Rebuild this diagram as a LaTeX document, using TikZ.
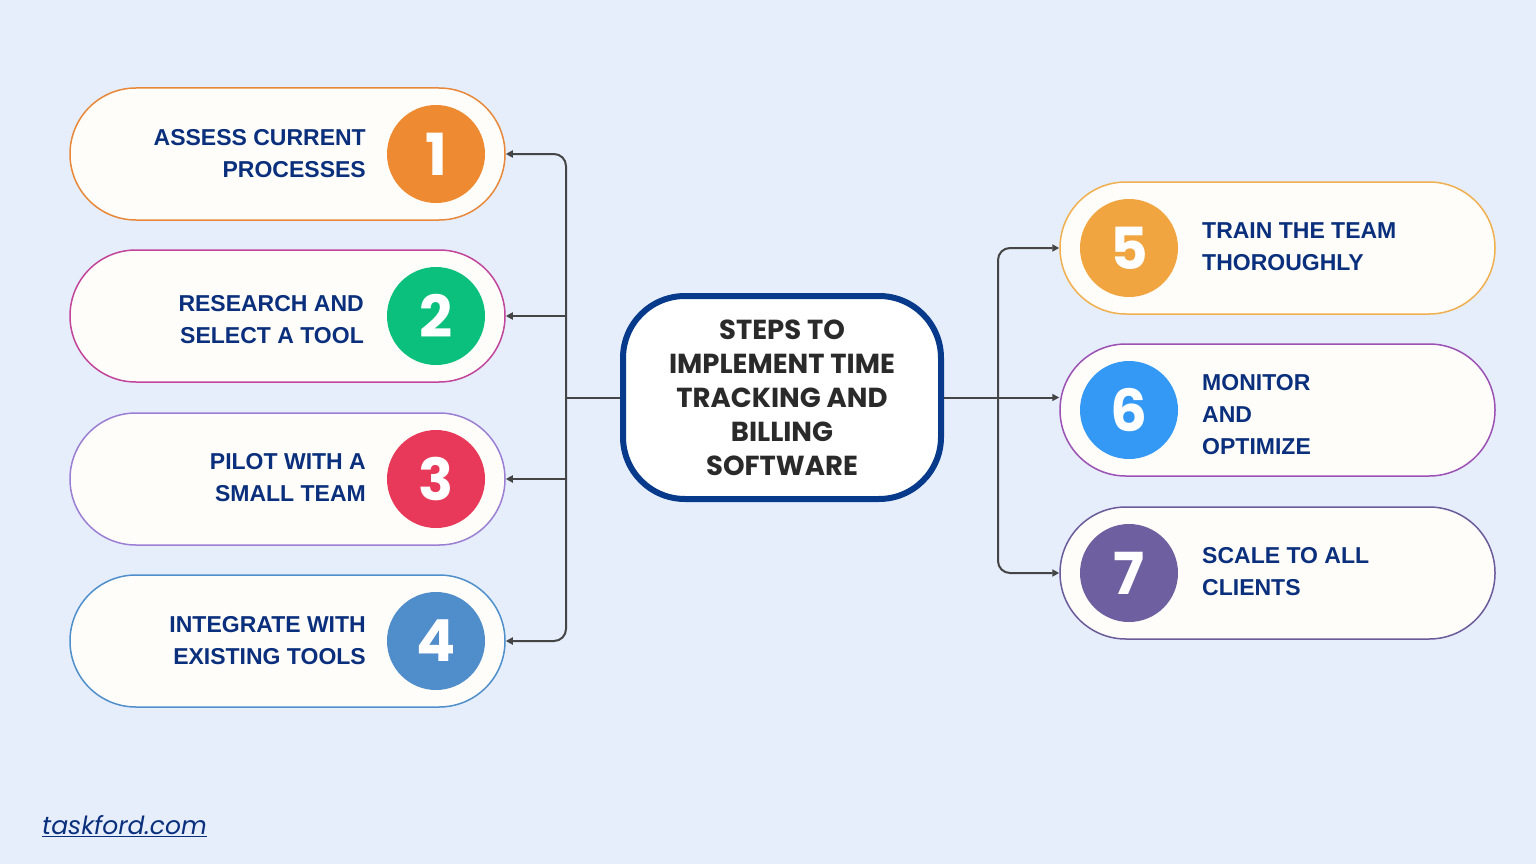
\documentclass[tikz,border=0pt]{standalone}
\usepackage{fontspec}
\setmainfont{Liberation Sans}
\newfontfamily\pop{Poppins}
\usetikzlibrary{arrows.meta}
\definecolor{bg}{HTML}{E6EEFC}
\definecolor{pillfill}{HTML}{FFFDF9}
\definecolor{navytxt}{HTML}{0A2F7C}
\definecolor{navyb}{HTML}{083A8C}
\definecolor{dark}{HTML}{2A2A2A}
\definecolor{conn}{HTML}{454545}
\definecolor{c1}{HTML}{EE8A32}
\definecolor{c2}{HTML}{0BBF7D}
\definecolor{c3}{HTML}{E8395A}
\definecolor{c4}{HTML}{4F8DCB}
\definecolor{c5}{HTML}{F0A540}
\definecolor{c6}{HTML}{3399F5}
\definecolor{c7}{HTML}{6E5FA0}
\definecolor{b1}{HTML}{E8883A}
\definecolor{b2}{HTML}{C2459B}
\definecolor{b3}{HTML}{9B7FD4}
\definecolor{b4}{HTML}{4F8FCB}
\definecolor{b5}{HTML}{F0B050}
\definecolor{b6}{HTML}{9C52B5}
\definecolor{b7}{HTML}{6B5B9A}
\begin{document}
\begin{tikzpicture}[x=1pt,y=-1pt,
  pill/.style={draw=#1, line width=1.5pt, fill=pillfill, rounded corners=65.9pt,
    minimum width=435pt, minimum height=132pt, inner sep=0pt},
  num/.style={circle, fill=#1, minimum size=98pt, inner sep=0pt, text=white,
    font=\pop\bfseries\fontsize{58}{58}\selectfont},
  lbl/.style={text=navytxt, inner sep=0pt, font=\bfseries\fontsize{23}{32}\selectfont},
  connline/.style={draw=conn, line width=2pt, rounded corners=12pt},
  tip/.style={-{Triangle[length=7pt,width=7pt]}},
  bitip/.style={{Triangle[length=7pt,width=7pt]}-{Triangle[length=7pt,width=7pt]}}
]
\fill[bg] (0,0) rectangle (1536,864);

% left pills
\node[pill=b1] (p1) at (287.5,154) {};
\node[pill=b2] (p2) at (287.5,316) {};
\node[pill=b3] (p3) at (287.5,479) {};
\node[pill=b4] (p4) at (287.5,641) {};
\node[num=c1] (n1) at (436,154) {1};
\node[num=c2] (n2) at (436,316) {2};
\node[num=c3] (n3) at (436,479) {3};
\node[num=c4] (n4) at (436,641) {4};
\node[lbl, align=right, anchor=east] (t1) at (366,154) {ASSESS CURRENT\\PROCESSES};
\node[lbl, align=right, anchor=east] (t2) at (364,320) {RESEARCH AND\\SELECT A TOOL};
\node[lbl, align=right, anchor=east] (t3) at (366,478) {PILOT WITH A\\SMALL TEAM};
\node[lbl, align=right, anchor=east] (t4) at (366,641) {INTEGRATE WITH\\EXISTING TOOLS};

% right pills
\node[pill=b5] (p5) at (1277.5,248) {};
\node[pill=b6] (p6) at (1277.5,410) {};
\node[pill=b7] (p7) at (1277.5,573) {};
\node[num=c5] (n5) at (1129,248) {5};
\node[num=c6] (n6) at (1129,410) {6};
\node[num=c7] (n7) at (1129,573) {7};
\node[lbl, align=left, anchor=west] (t5) at (1202,247) {TRAIN THE TEAM\\THOROUGHLY};
\node[lbl, align=left, anchor=west] (t6) at (1202,415) {MONITOR\\AND\\OPTIMIZE};
\node[lbl, align=left, anchor=west] (t7) at (1202,572) {SCALE TO ALL\\CLIENTS};

% centre
\node[draw=navyb, line width=6pt, fill=white, rounded corners=62pt,
  minimum width=318pt, minimum height=203pt, align=center, text=dark,
  font=\pop\bfseries\fontsize{27.5}{34}\selectfont] (c) at (782,397.5)
  {STEPS TO\\IMPLEMENT TIME\\TRACKING AND\\BILLING\\SOFTWARE};

% connectors left
\coordinate (Lx) at (566,0);
\draw[connline, bitip] (p1.east) -| (Lx |- p4.east) -- (p4.east);
\draw[connline, tip] (Lx |- p2.east) -- (p2.east);
\draw[connline, tip] (Lx |- p3.east) -- (p3.east);
\draw[connline] (c.west) -- (c.west -| Lx);

% connectors right
\coordinate (Rx) at (998,0);
\draw[connline, bitip] (p5.west) -| (Rx |- p7.west) -- (p7.west);
\draw[connline, tip] (c.east) -- (c.east -| p6.west);

% footer
\node[anchor=west, inner sep=0pt, text=navytxt, font=\pop\itshape\fontsize{25}{25}\selectfont]
  (tf) at (42,826) {\underline{taskford.com}};
\end{tikzpicture}
\end{document}
